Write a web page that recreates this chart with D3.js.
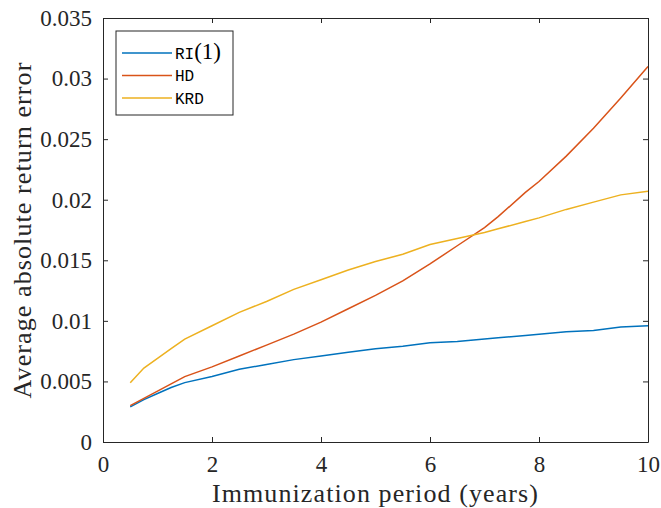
<!DOCTYPE html>
<html>
<head>
<meta charset="utf-8">
<script src="https://cdn.jsdelivr.net/npm/d3@7"></script>
</head>
<body style="margin:0">
<script>
// immunization period (years)
var periods = [0.5, 0.75, 1, 1.25, 1.5, 2, 2.5, 3, 3.5, 4, 4.5, 5, 5.5, 6, 6.5, 7, 7.25, 7.75, 8, 8.5, 9, 9.5, 10];
var ri1 = [0.0029, 0.0035, 0.0040, 0.0045, 0.0049, 0.0054, 0.0060, 0.0064, 0.0068, 0.0071, 0.0074, 0.0077, 0.0079, 0.0082, 0.0083, 0.0085, 0.0086, 0.0088, 0.0089, 0.0091, 0.0092, 0.0095, 0.0096];
var hd = [0.0030, 0.0036, 0.0042, 0.0048, 0.0054, 0.0062, 0.0071, 0.0080, 0.0089, 0.0099, 0.0110, 0.0121, 0.0133, 0.0147, 0.0162, 0.0177, 0.0186, 0.0206, 0.0215, 0.0236, 0.0259, 0.0284, 0.0310];
var krd = [0.0049, 0.0061, 0.0069, 0.0077, 0.0085, 0.0096, 0.0107, 0.0116, 0.0126, 0.0134, 0.0142, 0.0149, 0.0155, 0.0163, 0.0168, 0.0173, 0.0176, 0.0182, 0.0185, 0.0192, 0.0198, 0.0204, 0.0207];
var xTicks = [0, 2, 4, 6, 8, 10];
var yTicks = [0, 0.005, 0.01, 0.015, 0.02, 0.025, 0.03, 0.035];
var yTickLabels = ["0", "0.005", "0.01", "0.015", "0.02", "0.025", "0.03", "0.035"];

var width = 661, height = 508;
var margin = {top: 18, right: 13, bottom: 66, left: 103};
var axisColor = "#262626";
var serif = "'Liberation Serif'";
var mono = "'Liberation Mono'";

var series = [
  {name: "RI", sub: "(1)", values: ri1, color: "#0072BD"},
  {name: "HD", sub: "", values: hd, color: "#D95319"},
  {name: "KRD", sub: "", values: krd, color: "#EDB120"}
];

var svg = d3.select("body").append("svg")
  .attr("width", width)
  .attr("height", height);

var x = d3.scaleLinear().domain([0, 10]).range([margin.left, width - margin.right]);
var y = d3.scaleLinear().domain([0, 0.035]).range([height - margin.bottom, margin.top]);

// lines
var line = d3.line()
  .x(function(d, i) { return x(periods[i]); })
  .y(function(d) { return y(d); });

svg.selectAll("path.series")
  .data(series)
  .enter()
  .append("path")
  .attr("class", "series")
  .attr("fill", "none")
  .attr("stroke", function(d) { return d.color; })
  .attr("stroke-width", 1.5)
  .attr("d", function(d) { return line(d.values); });

// axes, ticks inward on all four sides (box on)
function styleAxis(g) {
  g.attr("font-family", serif).attr("font-size", 23);
  g.select(".domain").attr("stroke", axisColor).attr("stroke-width", 1);
  g.selectAll(".tick line").attr("stroke", axisColor);
  g.selectAll("text").attr("fill", axisColor);
}

svg.append("g")
  .attr("transform", "translate(0," + y(0) + ")")
  .call(d3.axisBottom(x).tickValues(xTicks).tickSizeInner(-5).tickSizeOuter(0).tickPadding(14).tickFormat(d3.format("d")))
  .call(styleAxis);

svg.append("g")
  .attr("transform", "translate(0," + y(0.035) + ")")
  .call(d3.axisTop(x).tickValues(xTicks).tickSizeInner(-5).tickSizeOuter(0).tickFormat(""))
  .call(styleAxis);

svg.append("g")
  .attr("transform", "translate(" + x(0) + ",0)")
  .call(d3.axisLeft(y).tickValues(yTicks).tickSizeInner(-5).tickSizeOuter(0).tickPadding(11)
    .tickFormat(function(d, i) { return yTickLabels[i]; }))
  .call(styleAxis);

svg.append("g")
  .attr("transform", "translate(" + x(10) + ",0)")
  .call(d3.axisRight(y).tickValues(yTicks).tickSizeInner(-5).tickSizeOuter(0).tickFormat(""))
  .call(styleAxis);

// axis labels
svg.append("text")
  .attr("x", (x(0) + x(10)) / 2)
  .attr("y", 502)
  .attr("text-anchor", "middle")
  .attr("fill", axisColor)
  .attr("font-family", serif)
  .attr("font-size", 26)
  .attr("letter-spacing", 1.1)
  .text("Immunization period (years)");

svg.append("text")
  .attr("transform", "translate(31," + (y(0) + y(0.035)) / 2 + ") rotate(-90)")
  .attr("text-anchor", "middle")
  .attr("fill", axisColor)
  .attr("font-family", serif)
  .attr("font-size", 26)
  .attr("letter-spacing", 1.1)
  .text("Average absolute return error");

// legend
var legend = svg.append("g").attr("transform", "translate(116,31)");
legend.append("rect")
  .attr("width", 117)
  .attr("height", 84)
  .attr("fill", "#fff")
  .attr("stroke", axisColor)
  .attr("stroke-width", 1);

var items = legend.selectAll("g.item")
  .data(series)
  .enter()
  .append("g")
  .attr("class", "item")
  .attr("transform", function(d, i) { return "translate(0," + (22 + i * 22.5) + ")"; });

items.append("line")
  .attr("x1", 6).attr("x2", 56)
  .attr("stroke", function(d) { return d.color; })
  .attr("stroke-width", 1.5);

var label = items.append("text")
  .attr("x", 59)
  .attr("dy", "0.35em")
  .attr("fill", "#000")
  .attr("font-family", mono)
  .attr("font-size", 16);
label.append("tspan").text(function(d) { return d.name; });
label.append("tspan").attr("font-family", serif).attr("font-size", 23).text(function(d) { return d.sub; });
</script>
</body>
</html>
